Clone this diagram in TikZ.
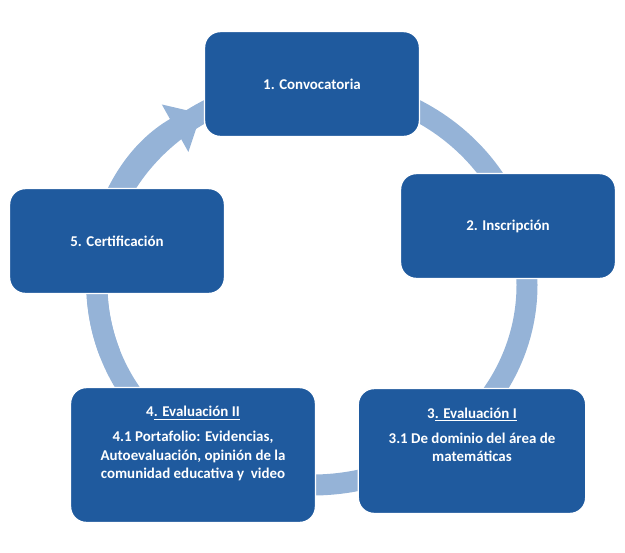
\documentclass[tikz,border=0pt]{standalone}
\usepackage{fontspec}
\setmainfont{Carlito}
\usetikzlibrary{arrows.meta}
\definecolor{boxblue}{HTML}{1F5A9E}
\definecolor{ringblue}{HTML}{95B3D7}
\begin{document}
\begin{tikzpicture}[x=0.02cm,y=-0.02cm]
      \tikzset{stage/.style={draw=white, thick, fill=boxblue, rounded corners=9pt, text=white, font=\fontsize{8.5}{10.5}\selectfont\bfseries, align=center}}
      \useasboundingbox (0,0) rectangle (625,552);
%% Ring
      	\draw[ringblue, line width=0.42cm] (312,285) ellipse [x radius=215, y radius=-200];
      	\draw[ringblue, line width=0.42cm, -{Triangle[width=1.05cm, length=0.6cm]}] (312,285) ++(200:215 and -200) arc [start angle=200, end angle=121, x radius=215, y radius=-200];
%% Stages
      	\node[stage, minimum width=4.3cm, minimum height=2.1cm] (s1) at (312,84) {1. Convocatoria};
      	\node[stage, minimum width=4.3cm, minimum height=2.1cm] (s2) at (508,226) {2. Inscripción};
    		\node[stage, minimum width=4.55cm, minimum height=2.5cm] (s3) at (472,451) {3\underline{. Evaluación I}\\[4pt]3.1 De dominio del área de\\matemáticas\\[8pt]};
  	    \node[stage, minimum width=4.9cm, minimum height=2.7cm] (s4) at (193,455) {4\underline{. Evaluación II}\\[4pt]4.1 Portafolio: Evidencias,\\Autoevaluación, opinión de la\\comunidad educativa y~ video\\[4pt]};
     	\node[stage, minimum width=4.3cm, minimum height=2.1cm] (s5) at (117,241) {5. Certificación};
	\end{tikzpicture}
\end{document}
